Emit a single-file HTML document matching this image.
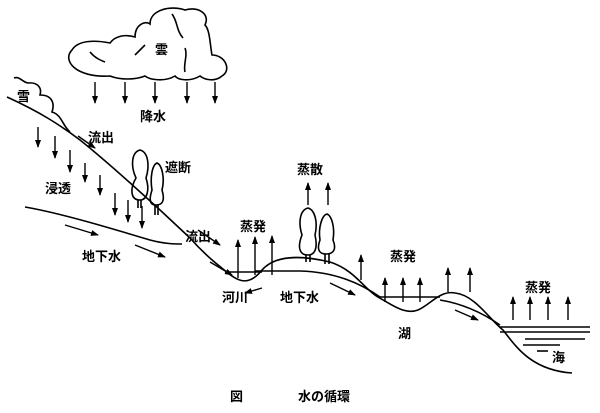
<!DOCTYPE html>
<html><head><meta charset="utf-8"><style>
html,body{margin:0;padding:0;background:#fff;}
svg{display:block}
text{font-family:"Liberation Sans","Noto Sans CJK JP",sans-serif;font-size:13px;fill:#000;font-weight:bold}
</style></head><body>
<svg width="600" height="413" viewBox="0 0 600 413" xmlns="http://www.w3.org/2000/svg">
<defs>
<marker id="b" markerWidth="8" markerHeight="6" refX="7" refY="3" orient="auto" markerUnits="userSpaceOnUse"><path d="M0,0 L8,3 L0,6 Z" fill="#000"/></marker></defs>
<g fill="none" stroke="#000" stroke-width="1.6">
<path d="M110,76 C75,78 62,60 72,50 C78,40 95,40 110,43 C115,36 125,34 135,37 C135,25 145,20 150,24 C150,10 170,5 185,10 C200,6 210,15 205,25 C210,30 210,45 212,55 C225,55 232,70 222,76 C215,82 205,80 200,76 C190,82 178,80 175,76 C165,82 150,80 145,76 C135,80 120,80 110,76 Z"/>
<path d="M90,52 C95,58 100,60 105,62"/><path d="M135,55 C140,50 143,47 145,45"/><path d="M183,38 C176,30 178,22 172,14"/><path d="M185,48 C188,55 183,65 185,72"/>
<path d="M14,78 C20,76 22,82 28,83 C38,82 42,88 40,95 C52,95 55,103 52,112 C62,115 62,125 70,132"/>
<path d="M7,97 C40,112 60,125 80,140 C105,160 150,200 190,238 C205,255 218,265 228,273 C240,283 250,285 262,270 C275,255 300,255 330,262 C355,270 365,290 378,297 C392,305 405,315 418,310 C430,305 440,290 455,293 C475,295 490,320 503,330 C515,345 530,370 572,373"/>
<path d="M25,207 C60,213 110,228 150,240 C165,244 175,244 182,244"/>
<path d="M255,271 L300,271 C335,272 360,283 380,297"/>
<path d="M440,300 C470,305 490,318 500,325"/>
<path d="M225,272 L262,272"/><path d="M378,297 L440,297"/>
<path d="M500,327 L590,327"/><path d="M500,332 L590,332"/><path d="M525,339 L585,339"/><path d="M523,345 L560,345"/><path d="M537,351 L548,351"/>
<path d="M136,178 C130,165 132,152 140,150 C148,152 150,165 146,178 C150,190 147,200 140,200 C130,200 130,188 136,178 Z"/>
<path d="M141,200 L141,208 M138,200 L138,208"/>
<path d="M152,190 C150,178 152,165 157,163 C162,165 165,178 162,190 C165,200 163,205 156,205 C148,205 150,196 152,190 Z"/>
<path d="M155,205 L155,215 M158,205 L158,215"/>
<path d="M302,235 C298,222 300,210 308,208 C315,210 318,222 315,235 C318,248 315,255 308,255 C298,255 298,245 302,235 Z"/>
<path d="M320,240 C318,228 322,215 327,214 C332,216 335,228 333,240 C337,250 333,254 326,254 C318,254 317,248 320,240 Z"/>
<path d="M306,255 L306,262 M310,255 L310,262 M325,254 L325,264 M329,254 L329,264"/>
</g>
<g stroke="#000" stroke-width="1.4" fill="none" marker-end="url(#b)">
<path d="M95,82 L95,103"/><path d="M125,82 L125,103"/><path d="M155,82 L155,103"/><path d="M187,82 L187,103"/><path d="M215,82 L215,103"/>
<path d="M38,127 L38,147"/><path d="M55,136 L55,158"/><path d="M70,150 L70,172"/><path d="M85,163 L85,182"/><path d="M100,175 L100,195"/><path d="M115,193 L115,215"/><path d="M128,200 L128,222"/><path d="M142,206 L142,228"/>
<path d="M238,278 L238,240"/><path d="M255,275 L255,237"/><path d="M272,275 L272,236"/>
<path d="M308,205 L308,183"/><path d="M328,205 L328,183"/>
<path d="M361,280 L361,255"/><path d="M385,302 L385,278"/><path d="M403,302 L403,278"/><path d="M420,302 L420,278"/><path d="M448,292 L448,268"/><path d="M470,292 L470,268"/>
<path d="M513,320 L513,297"/><path d="M530,320 L530,297"/><path d="M548,320 L548,297"/><path d="M568,320 L568,297"/>
<path d="M78,136 L95,148"/><path d="M65,225 L98,235"/><path d="M135,245 L165,257"/><path d="M198,230 L220,245"/><path d="M210,262 L232,275"/>
<path d="M262,288 L245,293"/><path d="M330,283 L355,295"/><path d="M455,310 L478,320"/>
</g>
<text x="155" y="54" font-size="14">雲</text>
<text x="140" y="121">降水</text>
<text x="17" y="101">雪</text>
<text x="88" y="142">流出</text>
<text x="165" y="172">遮断</text>
<text x="45" y="193">浸透</text>
<text x="82" y="261">地下水</text>
<text x="185" y="241">流出</text>
<text x="240" y="231">蒸発</text>
<text x="297" y="174">蒸散</text>
<text x="222" y="302">河川</text>
<text x="280" y="302">地下水</text>
<text x="390" y="261">蒸発</text>
<text x="398" y="338">湖</text>
<text x="525" y="292">蒸発</text>
<text x="552" y="362">海</text>
<text x="230" y="401">図</text>
<text x="298" y="401">水の循環</text>
</svg>
</body></html>
